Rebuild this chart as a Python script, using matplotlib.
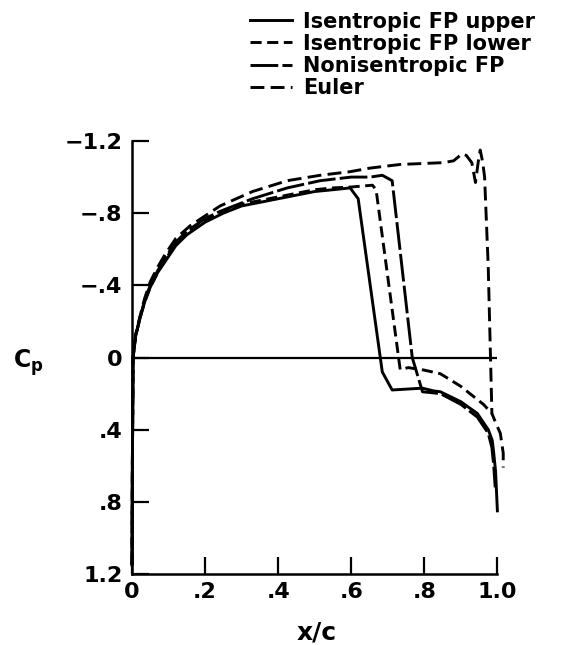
import matplotlib
matplotlib.use("Agg")
import matplotlib.pyplot as plt

plt.rcParams['font.family'] = ['DejaVu Sans']
plt.rcParams['font.weight'] = 'bold'
plt.rcParams['lines.scale_dashes'] = False
plt.rcParams['mathtext.fontset'] = 'custom'
plt.rcParams['mathtext.rm'] = 'DejaVu Sans:bold'
plt.rcParams['mathtext.it'] = 'DejaVu Sans:bold'

# ---- data ----
x_upper = [0.0, 0.001, 0.003, 0.01, 0.022, 0.035, 0.05, 0.07, 0.09, 0.12, 0.15, 0.2, 0.25,
           0.3, 0.35, 0.4, 0.45, 0.5, 0.55, 0.597, 0.619, 0.685, 0.712, 0.795, 0.825, 0.844,
           0.9, 0.945, 0.975, 0.986, 0.99, 0.995, 1.0]
cp_upper = [1.15, 0.6, 0.0, -0.12, -0.22, -0.31, -0.39, -0.47, -0.53, -0.62, -0.68, -0.75, -0.80,
            -0.84, -0.86, -0.88, -0.90, -0.92, -0.93, -0.94, -0.88, 0.08, 0.18, 0.17, 0.185, 0.19,
            0.245, 0.31, 0.40, 0.46, 0.53, 0.63, 0.85]

x_lower = [0.0, 0.001, 0.003, 0.01, 0.022, 0.035, 0.05, 0.07, 0.09, 0.12, 0.15, 0.2, 0.25,
           0.3, 0.35, 0.4, 0.45, 0.5, 0.55, 0.6, 0.658, 0.668, 0.734, 0.756, 0.8, 0.844,
           0.9, 0.934, 0.962, 0.985]
cp_lower = [1.15, 0.6, 0.0, -0.12, -0.22, -0.31, -0.39, -0.47, -0.54, -0.63, -0.69, -0.76, -0.81,
            -0.85, -0.87, -0.89, -0.91, -0.93, -0.94, -0.945, -0.955, -0.93, 0.067, 0.056, 0.07, 0.09,
            0.16, 0.215, 0.26, 0.31]

x_noniso = [0.0, 0.001, 0.003, 0.01, 0.022, 0.035, 0.05, 0.07, 0.09, 0.12, 0.15, 0.2, 0.241,
            0.33, 0.425, 0.515, 0.6, 0.652, 0.685, 0.712, 0.767, 0.795, 0.844, 0.9, 0.945,
            0.975, 0.985, 0.99, 0.994]
cp_noniso = [1.15, 0.6, 0.0, -0.12, -0.22, -0.32, -0.40, -0.48, -0.55, -0.64, -0.70, -0.77, -0.81,
             -0.88, -0.94, -0.98, -1.0, -1.0, -1.01, -0.98, 0.0, 0.19, 0.20, 0.26, 0.33,
             0.42, 0.50, 0.60, 0.72]

x_euler = [0.0, 0.001, 0.003, 0.01, 0.022, 0.035, 0.05, 0.07, 0.09, 0.12, 0.159, 0.241, 0.33,
           0.425, 0.515, 0.597, 0.652, 0.734, 0.852, 0.88, 0.904, 0.915, 0.93, 0.94, 0.948,
           0.953, 0.96, 0.965, 0.975, 0.985, 0.995, 1.008, 1.016, 1.016]
cp_euler = [1.15, 0.6, 0.0, -0.13, -0.23, -0.33, -0.42, -0.50, -0.57, -0.66, -0.73, -0.84, -0.92,
            -0.98, -1.01, -1.03, -1.05, -1.07, -1.08, -1.09, -1.13, -1.12, -1.08, -0.97, -1.09,
            -1.15, -1.08, -1.0, -0.5, 0.31, 0.36, 0.42, 0.53, 0.61]

series_labels = ["Isentropic FP upper", "Isentropic FP lower", "Nonisentropic FP", "Euler"]

x_ticks = [0, 0.2, 0.4, 0.6, 0.8, 1.0]
x_ticklabels = ["0", ".2", ".4", ".6", ".8", "1.0"]
y_ticks = [-1.2, -0.8, -0.4, 0, 0.4, 0.8, 1.2]
y_ticklabels = ["\u22121.2", "\u2212.8", "\u2212.4", "0", ".4", ".8", "1.2"]

# ---- figure ----
W, H = 561, 645
fig = plt.figure(figsize=(W / 100, H / 100), dpi=100)
ax = fig.add_axes([132 / W, 71 / H, 380 / W, 433 / H])

lw = 2.1
l1, = ax.plot(x_upper, cp_upper, color='black', lw=lw, ls='-', clip_on=False)
l2, = ax.plot(x_lower, cp_lower, color='black', lw=lw, ls=(0, (8, 4)), clip_on=False)
l3, = ax.plot(x_noniso, cp_noniso, color='black', lw=lw, ls=(0, (20, 3)), clip_on=False)
l4, = ax.plot(x_euler, cp_euler, color='black', lw=lw, ls=(0, (10, 4.5)), clip_on=False)

ax.hlines(0, 0, 1.0, color='black', lw=1.6)

ax.set_xlim(0, 1.04)
ax.set_ylim(1.2, -1.2)
for s in ['top', 'right']:
    ax.spines[s].set_visible(False)
ax.spines['left'].set_linewidth(1.8)
ax.spines['bottom'].set_linewidth(1.8)
ax.spines['bottom'].set_bounds(0, 1.0)

ax.set_xticks(x_ticks)
ax.set_xticklabels(x_ticklabels)
ax.set_yticks(y_ticks)
ax.set_yticklabels(y_ticklabels)
ax.tick_params(axis='both', direction='in', length=12, width=1.6, labelsize=16)
ax.tick_params(axis='x', pad=6)
ax.tick_params(axis='y', pad=7)
for t in ax.get_xticklabels() + ax.get_yticklabels():
    t.set_fontweight('bold')

fig.text(317 / W, 1 - 632 / H, "x/c", ha='center', va='center', fontsize=18, fontweight='bold')
fig.text(28 / W, 1 - 363 / H, r"$C_p$", ha='center', va='center', fontsize=17)

fig.legend([l1, l2, l3, l4], series_labels, loc='upper left',
           bbox_to_anchor=(250 / W, 1 - 11.5 / H), frameon=False,
           prop={'size': 15, 'weight': 'bold'}, handlelength=2.02, handletextpad=0.53,
           labelspacing=0.11, borderpad=0, borderaxespad=0)

fig.savefig("out.png", dpi=100)
